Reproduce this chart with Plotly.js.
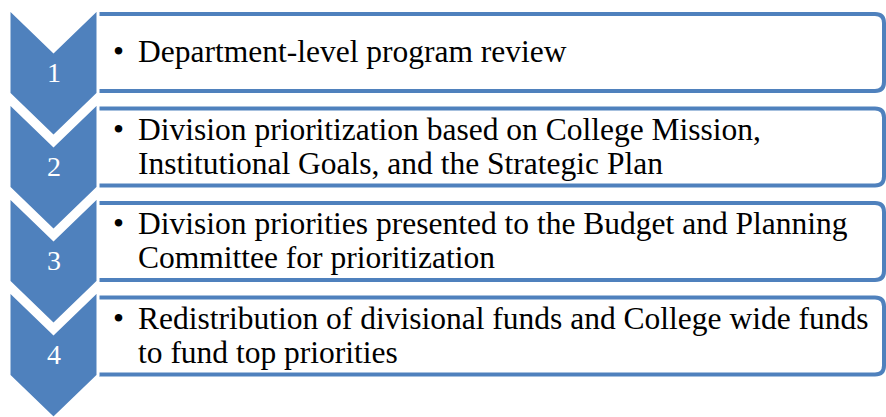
<!DOCTYPE html>
<html>
<head>
<meta charset="utf-8">
<script src="https://cdn.plot.ly/plotly-3.0.1.min.js"></script>
<style>html,body{margin:0;padding:0;background:#fff;}#chart{width:886px;height:417px;}</style>
</head>
<body>
<div id="chart"></div>
<script>
// Data
const stepNumbers = ['1', '2', '3', '4'];
const stepLines = [
  ['Department-level program review'],
  ['Division prioritization based on College Mission,', 'Institutional Goals, and the Strategic Plan'],
  ['Division priorities presented to the Budget and Planning', 'Committee for prioritization'],
  ['Redistribution of divisional funds and College wide funds', 'to fund top priorities']
];

// Layout constants (pixels, y axis downwards)
const W = 886, H = 417;
const BLUE = '#4F81BD';
const SERIF = 'Liberation Serif';
const chevL = 9, chevR = 98, chevMid = (chevL + chevR) / 2;
const notch = 43, chevH = 85, chevTop0 = 8.5, chevStep = 94;
const boxL = 95, boxR = 884, boxTop0 = 14, boxStep = 94.5, boxH = 77, rad = 9;
const fontSize = 31.5, lineGap = 34;

const shapes = [];
const annotations = [];

stepNumbers.forEach((num, i) => {
  const bt = boxTop0 + i * boxStep, bb = bt + boxH;
  shapes.push({
    type: 'path', xref: 'x', yref: 'y', layer: 'above',
    path: `M ${boxL},${bt} L ${boxR - rad},${bt} Q ${boxR},${bt} ${boxR},${bt + rad} L ${boxR},${bb - rad} Q ${boxR},${bb} ${boxR - rad},${bb} L ${boxL},${bb} Z`,
    fillcolor: '#FFFFFF', line: {color: BLUE, width: 4}
  });
});

stepNumbers.forEach((num, i) => {
  const t = chevTop0 + i * chevStep;
  shapes.push({
    type: 'path', xref: 'x', yref: 'y', layer: 'above',
    path: `M ${chevL},${t} L ${chevMid},${t + notch} L ${chevR},${t} L ${chevR},${t + chevH} L ${chevMid},${t + chevH + notch} L ${chevL},${t + chevH} Z`,
    fillcolor: BLUE, line: {color: '#FFFFFF', width: 3}
  });
  annotations.push({
    x: chevMid, y: t + 64, xref: 'x', yref: 'y', text: num, showarrow: false,
    xanchor: 'center', yanchor: 'middle',
    font: {family: SERIF, size: 28, color: '#FFFFFF'}
  });
});

stepLines.forEach((lines, i) => {
  const bt = boxTop0 + i * boxStep;
  const mid = bt + boxH / 2 - 1;
  const first = mid - (lines.length - 1) * lineGap / 2;
  lines.forEach((ln, j) => {
    const y = first + j * lineGap;
    if (j === 0) {
      annotations.push({
        x: 118, y: y, xref: 'x', yref: 'y', text: '•', showarrow: false,
        xanchor: 'center', yanchor: 'middle',
        font: {family: SERIF, size: fontSize, color: '#000000'}
      });
    }
    annotations.push({
      x: 136, y: y, xref: 'x', yref: 'y', text: ln, showarrow: false,
      xanchor: 'left', yanchor: 'middle', align: 'left',
      font: {family: SERIF, size: fontSize, color: '#000000'}
    });
  });
});

const layout = {
  width: W, height: H,
  margin: {l: 0, r: 0, t: 0, b: 0},
  paper_bgcolor: '#FFFFFF', plot_bgcolor: '#FFFFFF',
  showlegend: false,
  font: {family: SERIF},
  xaxis: {range: [0, W], visible: false, fixedrange: true},
  yaxis: {range: [H, 0], visible: false, fixedrange: true},
  shapes: shapes,
  annotations: annotations
};

Plotly.newPlot('chart', [{x: [], y: [], type: 'scatter', hoverinfo: 'skip'}], layout, {staticPlot: true, displayModeBar: false});
</script>
</body>
</html>
